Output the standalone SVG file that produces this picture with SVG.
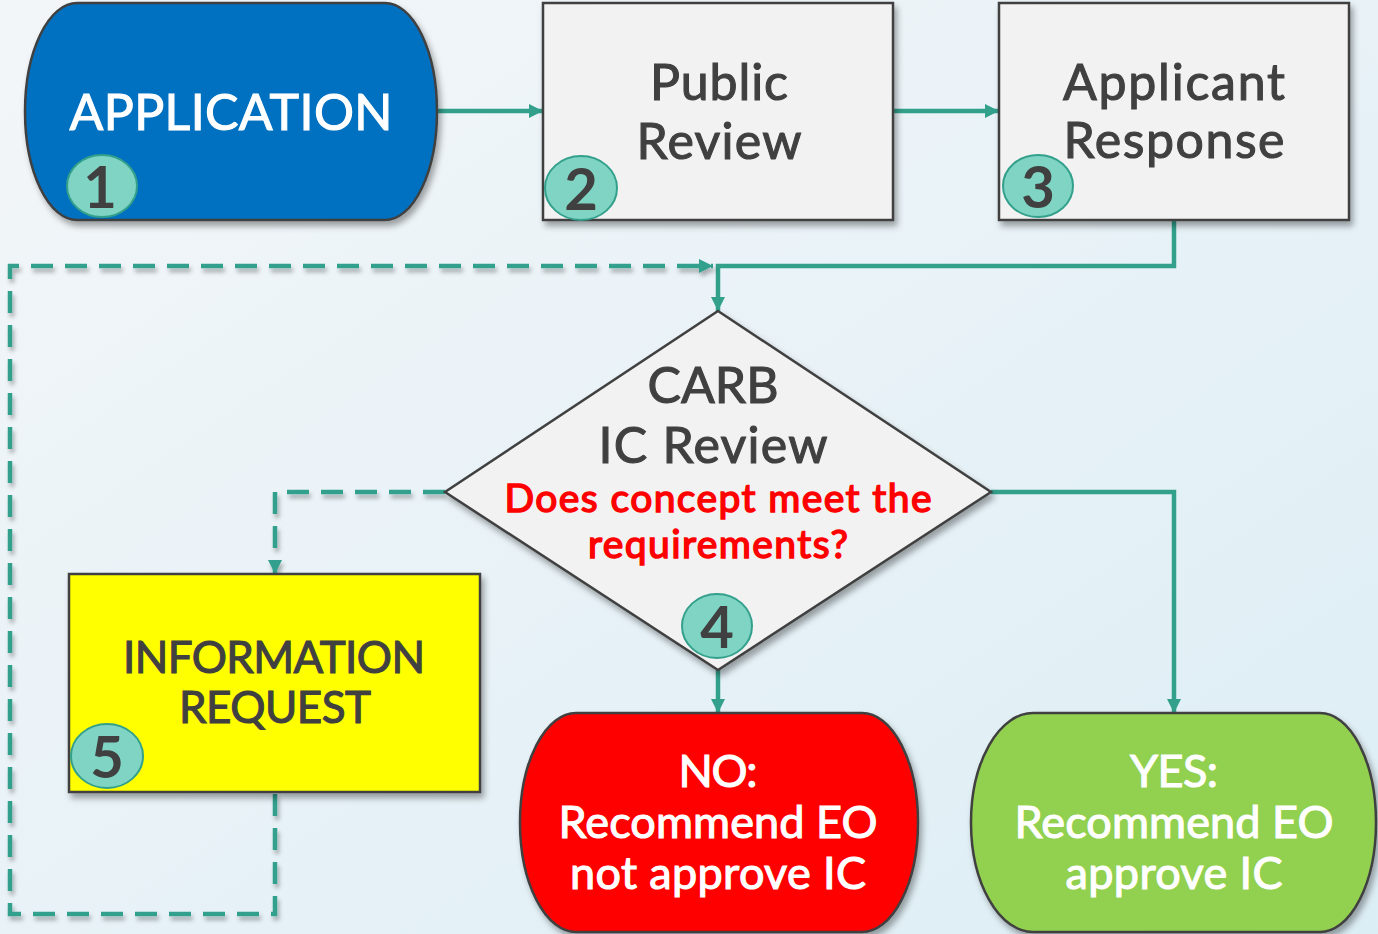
<svg xmlns="http://www.w3.org/2000/svg" width="1378" height="934" viewBox="0 0 1378 934">
<defs>
<linearGradient id="bg" x1="0" y1="0" x2="1" y2="1">
<stop offset="0" stop-color="#F3F6F9"/>
<stop offset="0.5" stop-color="#E8F2F7"/>
<stop offset="1" stop-color="#DCEEF5"/>
</linearGradient>
<filter id="sh" x="-10%" y="-10%" width="125%" height="130%">
<feDropShadow dx="3" dy="5" stdDeviation="3" flood-color="#000" flood-opacity="0.35"/>
</filter>
<filter id="lsh" x="-5%" y="-5%" width="110%" height="110%">
<feDropShadow dx="2" dy="4" stdDeviation="2" flood-color="#000" flood-opacity="0.3"/>
</filter>
<marker id="ah" viewBox="0 0 12 12" refX="12" refY="6" markerWidth="14" markerHeight="14" markerUnits="userSpaceOnUse" orient="auto">
<path d="M0,0 L12,6 L0,12 Z" fill="#33A08C"/>
</marker>
<style>
.node{stroke:#404040;stroke-width:2.5;filter:url(#sh)}
.lbl{font-family:Lato,"Noto Sans",sans-serif;text-anchor:middle;fill:#404040;stroke:#404040;stroke-width:1.1}
.w{fill:#FFFFFF;stroke:#FFFFFF}
.q{fill:#FF0000;stroke:#FF0000;stroke-width:1.5}
.conn{fill:none;stroke:#33A08C;stroke-width:4.5}
.dash{stroke-dasharray:22 12;filter:url(#lsh)}
.badge{fill:#7FD4C4;stroke:#33A08C;stroke-width:2}
.num{font-family:Lato,"Noto Sans",sans-serif;font-weight:700;font-size:58px;text-anchor:middle;fill:#404040}
</style>
</defs>
<rect x="0" y="0" width="1378" height="934" fill="url(#bg)"/>

<g id="connectors">
<path class="conn" d="M437,111 H543" marker-end="url(#ah)"/>
<path class="conn" d="M893,111 H999" marker-end="url(#ah)"/>
<path class="conn" d="M1174,220 V266 H718 V311" marker-end="url(#ah)"/>
<path class="conn dash" d="M275,794 V914 H10 V266 H713" marker-end="url(#ah)"/>
<path class="conn dash" d="M445,492 H275 V574" marker-end="url(#ah)"/>
<path class="conn" d="M718,670 V713" marker-end="url(#ah)"/>
<path class="conn" d="M991,492 H1174 V713" marker-end="url(#ah)"/>
</g>

<g id="n1">
<path class="node" fill="#0070C0" d="M77,3 H385 A52,108.5 0 0 1 385,220 H77 A52,108.5 0 0 1 77,3 Z"/>
<text class="lbl w" x="231" y="130" font-size="50" textLength="323">APPLICATION</text>
<ellipse class="badge" cx="102" cy="186" rx="35" ry="31"/>
<text class="num" x="100" y="208">1</text>
</g>

<g id="n2">
<rect class="node" fill="#F2F2F2" x="543" y="3" width="350" height="217"/>
<text class="lbl" x="719" y="100" font-size="50" textLength="138">Public</text>
<text class="lbl" x="719" y="159" font-size="50" textLength="165">Review</text>
<ellipse class="badge" cx="581" cy="188" rx="36" ry="32"/>
<text class="num" x="581" y="210">2</text>
</g>

<g id="n3">
<rect class="node" fill="#F2F2F2" x="999" y="3" width="350" height="217"/>
<text class="lbl" x="1174" y="100" font-size="50" textLength="222">Applicant</text>
<text class="lbl" x="1174" y="158" font-size="50" textLength="221">Response</text>
<ellipse class="badge" cx="1038" cy="186" rx="35" ry="31"/>
<text class="num" x="1038" y="208">3</text>
</g>

<g id="n4">
<path class="node" fill="#F2F2F2" d="M718,311 L991,492 L718,670 L445,492 Z"/>
<text class="lbl" x="713" y="403" font-size="50" textLength="131">CARB</text>
<text class="lbl" x="713" y="463" font-size="50" textLength="229">IC Review</text>
<text class="lbl q" x="718" y="512" font-size="39" textLength="427">Does concept meet the</text>
<text class="lbl q" x="718" y="558" font-size="39" textLength="260">requirements?</text>
<ellipse class="badge" cx="717" cy="626" rx="35" ry="32"/>
<text class="num" x="717" y="648">4</text>
</g>

<g id="n5">
<rect class="node" fill="#FFFF00" x="69" y="574" width="411" height="218"/>
<text class="lbl" x="274" y="673" font-size="44" textLength="302">INFORMATION</text>
<text class="lbl" x="275" y="723" font-size="44" textLength="192">REQUEST</text>
<ellipse class="badge" cx="107" cy="756" rx="36" ry="32"/>
<text class="num" x="107" y="778">5</text>
</g>

<g id="n6">
<path class="node" fill="#FF0000" d="M576,713 H862 A56,109.5 0 0 1 862,932 H576 A56,109.5 0 0 1 576,713 Z"/>
<text class="lbl w" x="718" y="787" font-size="45" textLength="79">NO:</text>
<text class="lbl w" x="718" y="838" font-size="45" textLength="319">Recommend EO</text>
<text class="lbl w" x="718" y="889" font-size="45" textLength="296">not approve IC</text>
</g>

<g id="n7">
<path class="node" fill="#92D050" d="M1033,713 H1320 A56,109.5 0 0 1 1320,932 H1033 A62,109.5 0 0 1 1033,713 Z"/>
<text class="lbl w" x="1174" y="787" font-size="45" textLength="88">YES:</text>
<text class="lbl w" x="1174" y="838" font-size="45" textLength="319">Recommend EO</text>
<text class="lbl w" x="1174" y="889" font-size="45" textLength="217">approve IC</text>
</g>
</svg>
